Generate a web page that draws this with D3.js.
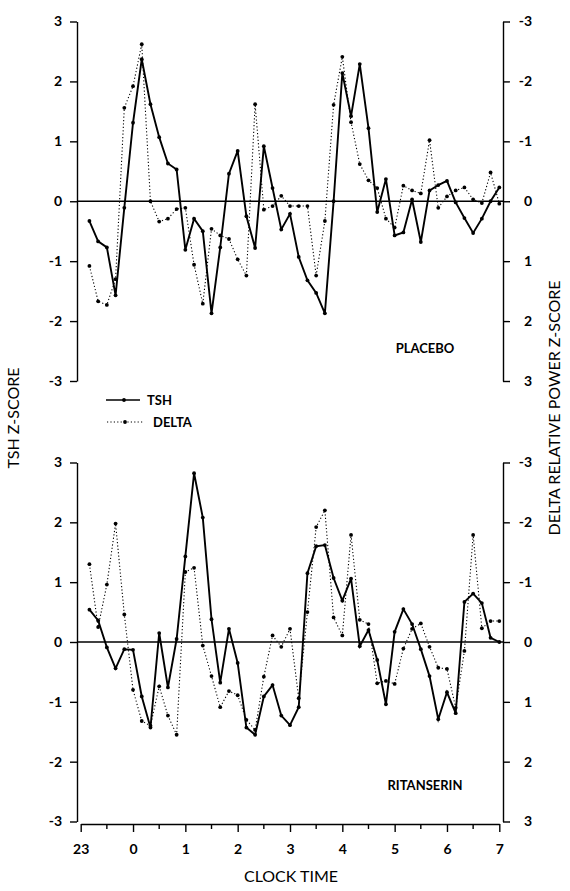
<!DOCTYPE html>
<html>
<head>
<meta charset="utf-8">
<script src="https://cdn.jsdelivr.net/npm/d3@7"></script>
<style>
  html, body { margin: 0; padding: 0; background: #fff; }
  svg { display: block; }
  text { font-family: Lato, "Open Sans", sans-serif; fill: #000; }
</style>
</head>
<body>
<script>
// ---- DATA ----
// minutes after 23:00 (10-min samples)
const minutes = [10,20,30,40,50,60,70,80,90,100,110,120,130,140,150,160,170,180,190,200,210,220,230,240,
                 250,260,270,280,290,300,310,320,330,340,350,360,370,380,390,400,410,420,430,440,450,460,470,480];

const placeboTSH = [-0.33,-0.67,-0.77,-1.57,-0.11,1.31,2.37,1.62,1.07,0.63,0.53,-0.81,-0.29,-0.50,-1.87,-0.77,
                    0.46,0.84,-0.25,-0.78,0.92,0.22,-0.47,-0.21,-0.93,-1.32,-1.53,-1.87,0.00,2.14,1.42,2.29,
                    1.22,-0.18,0.37,-0.57,-0.52,0.03,-0.68,0.18,0.27,0.34,-0.02,-0.28,-0.53,-0.29,0.00,0.23];

const placeboDelta = [1.08,1.67,1.73,1.30,-1.56,-1.92,-2.62,0.00,0.34,0.29,0.13,0.11,1.06,1.71,0.46,0.57,
                      0.63,0.97,1.24,-1.62,0.14,0.08,-0.09,0.08,0.08,0.08,1.24,0.33,-1.61,-2.41,-1.32,-0.62,
                      -0.35,-0.22,0.29,0.44,-0.26,-0.18,-0.13,-1.02,0.11,-0.08,-0.18,-0.23,-0.03,0.03,-0.48,0.04];

const ritanserinTSH = [0.54,0.36,-0.09,-0.44,-0.12,-0.13,-0.91,-1.43,0.15,-0.76,0.05,1.43,2.82,2.08,0.38,-0.68,
                       0.22,-0.35,-1.43,-1.55,-0.91,-0.72,-1.23,-1.39,-1.09,1.15,1.60,1.62,1.07,0.69,1.06,-0.07,
                       0.20,-0.30,-1.04,0.17,0.55,0.30,-0.12,-0.57,-1.29,-0.84,-1.19,0.67,0.81,0.65,0.07,0.00];

const ritanserinDelta = [-1.30,-0.25,-0.96,-1.98,-0.46,0.80,1.32,1.40,0.74,1.23,1.55,-1.17,-1.24,0.06,0.57,1.09,
                         0.82,0.89,1.30,1.47,0.58,-0.11,0.08,-0.22,0.94,-0.50,-1.92,-2.20,-0.41,-0.11,-1.79,-0.37,
                         -0.30,0.69,0.65,0.70,0.11,-0.22,-0.31,0.08,0.43,0.45,1.10,0.15,-1.79,-0.23,-0.35,-0.35];

const yTicks = [-3,-2,-1,0,1,2,3];
const xMajorMinutes = [0,60,120,180,240,300,360,420,480];
const xTickLabels = ["23","0","1","2","3","4","5","6","7"];
const xMinorMinutes = [30,90,150,210,270,330,390,450];
const panelNames = ["PLACEBO","RITANSERIN"];
const seriesNames = ["TSH","DELTA"];

// ---- LAYOUT ----
const W = 570, H = 891;
const svg = d3.select("body").append("svg").attr("width", W).attr("height", H);

const xLeft = 77, xRight = 503;
const x = d3.scaleLinear().domain([0, 480]).range([80.7, 499.3]);

const panels = [
  { top: 21.5, bottom: 381, tsh: placeboTSH, delta: placeboDelta, name: panelNames[0], labelY: 353 },
  { top: 462.5, bottom: 821.5, tsh: ritanserinTSH, delta: ritanserinDelta, name: panelNames[1], labelY: 790 }
];

const tickFont = "Lato, sans-serif";

panels.forEach((p, pi) => {
  const yL = d3.scaleLinear().domain([-3, 3]).range([p.bottom, p.top]);
  const yR = d3.scaleLinear().domain([-3, 3]).range([p.top, p.bottom]);
  const g = svg.append("g");

  // left axis
  const la = g.append("g").attr("transform", `translate(${xLeft},0)`)
    .call(d3.axisLeft(yL).tickValues(yTicks).tickSize(7).tickSizeOuter(0).tickPadding(8).tickFormat(d => String(d)));
  // right axis
  const ra = g.append("g").attr("transform", `translate(${xRight},0)`)
    .call(d3.axisRight(yR).tickValues(yTicks).tickSize(7).tickSizeOuter(0).tickPadding(8).tickFormat(d => String(d)));
  ra.selectAll(".tick text").attr("text-anchor", "end").attr("x", 29);

  [la, ra].forEach(a => {
    a.select(".domain").attr("stroke", "#000").attr("stroke-width", 1.4);
    a.selectAll(".tick line").attr("stroke", "#000").attr("stroke-width", 1.4);
    a.selectAll(".tick text").attr("font-family", tickFont).attr("font-size", 14).attr("font-weight", 700).attr("fill", "#000");
  });

  // zero line
  g.append("line").attr("x1", xLeft).attr("x2", xRight)
    .attr("y1", yL(0)).attr("y2", yL(0)).attr("stroke", "#000").attr("stroke-width", 1.4);

  // delta dotted line
  const lineD = d3.line().x((d, i) => x(minutes[i])).y(d => yR(d));
  g.append("path").datum(p.delta).attr("d", lineD)
    .attr("fill", "none").attr("stroke", "#000").attr("stroke-width", 1.1).attr("stroke-dasharray", "1.2,2.2");
  g.selectAll(".dd").data(p.delta).enter().append("circle")
    .attr("cx", (d, i) => x(minutes[i])).attr("cy", d => yR(d)).attr("r", 1.9).attr("fill", "#000");

  // TSH solid line
  const lineT = d3.line().x((d, i) => x(minutes[i])).y(d => yL(d));
  g.append("path").datum(p.tsh).attr("d", lineT)
    .attr("fill", "none").attr("stroke", "#000").attr("stroke-width", 1.9).attr("stroke-linejoin", "miter");
  g.selectAll(".td").data(p.tsh).enter().append("circle")
    .attr("cx", (d, i) => x(minutes[i])).attr("cy", d => yL(d)).attr("r", 1.9).attr("fill", "#000");

  // panel label
  g.append("text").attr("x", 425).attr("y", p.labelY).attr("text-anchor", "middle")
    .attr("font-size", 13).attr("font-weight", 700).text(p.name);
});

// bottom x axis
const xa = svg.append("g").attr("transform", "translate(0,824)")
  .call(d3.axisBottom(x).tickValues(xMajorMinutes).tickSize(8).tickSizeOuter(0).tickPadding(12)
    .tickFormat((d, i) => xTickLabels[i]));
xa.select(".domain").attr("stroke", "#000").attr("stroke-width", 1.4);
xa.selectAll(".tick line").attr("stroke", "#000").attr("stroke-width", 1.4);
xa.selectAll(".tick text").attr("font-family", tickFont).attr("font-size", 14).attr("font-weight", 700).attr("fill", "#000");
xa.selectAll(".minor").data(xMinorMinutes).enter().append("line").attr("class", "minor")
  .attr("x1", d => x(d)).attr("x2", d => x(d)).attr("y1", 0).attr("y2", 5)
  .attr("stroke", "#000").attr("stroke-width", 1.4);

// x axis title
svg.append("text").attr("x", 291).attr("y", 882).attr("text-anchor", "middle")
  .attr("font-size", 16).text("CLOCK TIME");

// y axis titles
svg.append("text").attr("transform", "translate(19,418) rotate(-90)").attr("text-anchor", "middle")
  .attr("font-size", 16).text("TSH Z-SCORE");
svg.append("text").attr("transform", "translate(560,408) rotate(-90)").attr("text-anchor", "middle")
  .attr("font-size", 16).text("DELTA RELATIVE POWER Z-SCORE");

// legend
const leg = svg.append("g");
leg.append("line").attr("x1", 106).attr("x2", 140).attr("y1", 400).attr("y2", 400)
  .attr("stroke", "#000").attr("stroke-width", 1.6);
leg.append("circle").attr("cx", 124).attr("cy", 400).attr("r", 1.9).attr("fill", "#000");
leg.append("text").attr("x", 147).attr("y", 405).attr("font-size", 13).attr("font-weight", 700).text(seriesNames[0]);
leg.append("line").attr("x1", 107).attr("x2", 144).attr("y1", 422).attr("y2", 422)
  .attr("stroke", "#000").attr("stroke-width", 1).attr("stroke-dasharray", "1.2,2.2");
leg.append("circle").attr("cx", 125).attr("cy", 422).attr("r", 1.9).attr("fill", "#000");
leg.append("text").attr("x", 153).attr("y", 427).attr("font-size", 13).attr("font-weight", 700).text(seriesNames[1]);
</script>
</body>
</html>
